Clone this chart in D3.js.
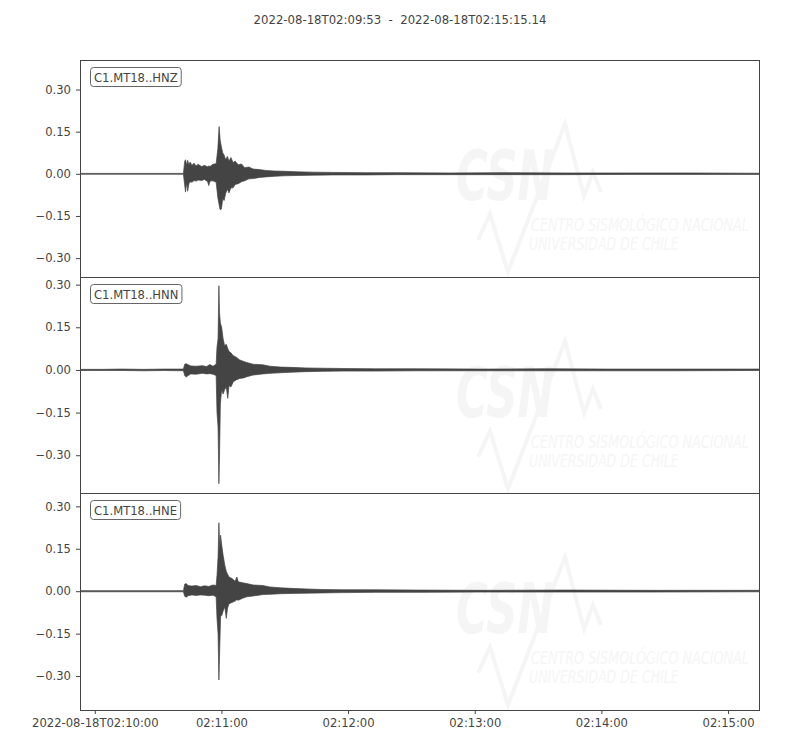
<!DOCTYPE html>
<html><head><meta charset="utf-8">
<script src="https://cdn.jsdelivr.net/npm/d3@7"></script>
<style>body{margin:0;background:#fff} svg text{font-family:"DejaVu Sans",sans-serif}</style>
</head><body><svg id="c" width="800" height="750"></svg>
<script>
// ---------- data ----------
const startTime = "2022-08-18T02:09:53Z";
const endTime = "2022-08-18T02:15:15.14Z";
const titleText = "2022-08-18T02:09:53  -  2022-08-18T02:15:15.14";
const channels = ["C1.MT18..HNZ", "C1.MT18..HNN", "C1.MT18..HNE"];
const yTicks = [0.30, 0.15, 0.00, -0.15, -0.30];
const yLimits = [[-0.366, 0.405], [-0.434, 0.328], [-0.42, 0.346]];
const xTickTimes = ["2022-08-18T02:10:00Z", "2022-08-18T02:11:00Z", "2022-08-18T02:12:00Z",
                    "2022-08-18T02:13:00Z", "2022-08-18T02:14:00Z", "2022-08-18T02:15:00Z"];
const xTickLabels = ["2022-08-18T02:10:00", "02:11:00", "02:12:00", "02:13:00", "02:14:00", "02:15:00"];
const watermarkTexts = ["CSN", "CENTRO SISMOLÓGICO NACIONAL", "UNIVERSIDAD DE CHILE"];

// envelope of each trace: [seconds after start, max (m/s²), min]
const envHNZ = [
  [0, .0015, -.0015], [49.0, .0015, -.0015], [49.6, .045, -.04], [50.0, .05, -.065], [50.5, .03, -.03],
  [51.0, .048, -.062], [51.6, .032, -.035], [52.2, .042, -.028], [53.0, .03, -.03], [54.0, .038, -.024],
  [55.0, .028, -.026], [56.0, .034, -.022], [57.5, .026, -.024], [59.0, .03, -.02], [60.5, .025, -.028],
  [61.0, .028, -.042], [61.6, .026, -.026], [63.0, .034, -.025], [64.5, .036, -.03], [65.3, .09, -.085],
  [65.9, .168, -.11], [66.4, .12, -.128], [67.0, .095, -.125], [67.6, .075, -.09], [68.3, .066, -.095],
  [69.0, .05, -.07], [69.8, .062, -.055], [70.6, .045, -.068], [71.5, .058, -.05], [72.5, .04, -.05],
  [73.5, .045, -.038], [75.0, .032, -.035], [76.5, .035, -.028], [78.0, .022, -.025], [80.0, .024, -.018],
  [82.0, .017, -.017], [85.0, .015, -.013], [88.0, .012, -.011], [92.0, .01, -.009], [97.0, .009, -.007],
  [103, .007, -.006], [110, .006, -.005], [120, .005, -.004], [135, .004, -.004], [150, .004, -.003],
  [175, .003, -.003], [200, .004, -.003], [230, .003, -.003], [260, .003, -.002], [290, .003, -.002],
  [322.14, .002, -.002]
];
const envHNN = [
  [0, .002, -.002], [10, .002, -.002], [20, .003, -.002], [30, .002, -.003], [40, .003, -.002],
  [49.0, .003, -.003], [49.6, .02, -.02], [50.3, .022, -.025], [51.2, .018, -.02], [52.5, .014, -.014],
  [55, .013, -.015], [58, .015, -.012], [60, .012, -.014], [61.5, .019, -.013], [63, .013, -.015],
  [64.5, .02, -.02], [64.9, .08, -.15], [65.4, .11, -.2], [65.8, .296, -.40], [66.1, .2, -.3],
  [66.5, .165, -.12], [67.1, .15, -.07], [67.8, .11, -.085], [68.5, .085, -.07], [69.3, .09, -.06],
  [70.0, .075, -.1], [70.6, .065, -.055], [71.5, .06, -.06], [72.6, .05, -.042], [74, .045, -.035],
  [75.7, .035, -.03], [77.5, .03, -.028], [79, .026, -.024], [82, .02, -.018], [86.6, .018, -.014],
  [90, .013, -.012], [95, .01, -.01], [100, .009, -.008], [107, .007, -.006], [115, .006, -.005],
  [125, .005, -.004], [140, .004, -.004], [160, .004, -.003], [190, .003, -.003], [220, .004, -.003],
  [250, .003, -.003], [280, .003, -.003], [322.14, .003, -.002]
];
const envHNE = [
  [0, .002, -.002], [49.0, .002, -.002], [49.6, .025, -.018], [50.3, .027, -.021], [51.2, .02, -.016],
  [53, .018, -.013], [55, .02, -.015], [57, .016, -.013], [59, .019, -.014], [61, .017, -.016],
  [63, .022, -.014], [64.5, .02, -.02], [64.9, .056, -.096], [65.4, .12, -.15], [65.8, .242, -.314],
  [66.2, .15, -.2], [66.6, .198, -.09], [67.2, .16, -.085], [67.8, .127, -.07], [68.6, .092, -.055],
  [69.3, .07, -.096], [69.9, .06, -.06], [70.6, .05, -.044], [72, .045, -.04], [73.5, .035, -.035],
  [74.3, .05, -.03], [75, .033, -.032], [77, .03, -.025], [79, .027, -.02], [82, .022, -.017],
  [86.6, .02, -.012], [90, .015, -.011], [95, .012, -.009], [100, .01, -.008], [107, .008, -.007],
  [115, .006, -.006], [125, .005, -.005], [140, .005, -.004], [160, .004, -.004], [190, .003, -.003],
  [230, .004, -.003], [270, .003, -.003], [322.14, .003, -.002]
];
const envelopes = [envHNZ, envHNN, envHNE];

// ---------- drawing ----------
const mLeft = 80, mRight = 760, mTop = 60, mBottom = 710;
const panelH = (mBottom - mTop) / channels.length;
const ink = "#444444";
const t0 = new Date(startTime);
const svg = d3.select("#c");

svg.append("text").attr("x", 400).attr("y", 24).attr("text-anchor", "middle")
  .attr("xml:space", "preserve").style("white-space", "pre")
  .attr("font-size", 11.7).attr("fill", ink).text(titleText);

const x = d3.scaleUtc().domain([t0, new Date(endTime)]).range([mLeft, mRight]);
const tAt = s => new Date(t0.getTime() + s * 1000);

// text squeezed horizontally to a target width (watermark lettering is condensed)
function fitText(sel, tx, ty, width, str, size, weight) {
  const t = sel.append("text").attr("font-size", size).attr("font-style", "italic")
    .attr("font-weight", weight)
    .attr("font-family", "Liberation Sans Narrow, Liberation Sans, sans-serif")
    .attr("fill", "#f5f5f5").text(str);
  const sx = width / t.node().getComputedTextLength();
  t.attr("transform", `translate(${tx},${ty}) scale(${sx},1)`);
}

channels.forEach((ch, i) => {
  const py0 = Math.round(mTop + i * panelH), py1 = Math.round(mTop + (i + 1) * panelH);
  const y = d3.scaleLinear().domain(yLimits[i]).range([mTop + (i + 1) * panelH, mTop + i * panelH]);
  const g = svg.append("g");

  g.append("clipPath").attr("id", "clip" + i).append("rect")
    .attr("x", mLeft).attr("y", py0).attr("width", mRight - mLeft).attr("height", py1 - py0);

  // faint watermark
  const wm = g.append("g").attr("transform", `translate(0,${py0 - 60})`);
  fitText(wm, 456, 200, 98, watermarkTexts[0], 70, "bold");
  wm.append("path").attr("d", "M478,240 L490,214 L508,272 L565,124 L584,196 L593,172 L601,192")
    .attr("fill", "none").attr("stroke", "#f5f5f5").attr("stroke-width", 4).attr("stroke-linejoin", "miter");
  fitText(wm, 531, 231, 218, watermarkTexts[1], 17, "normal");
  fitText(wm, 529, 250, 150, watermarkTexts[2], 17, "normal");

  // waveform envelope
  const area = d3.area()
    .x(d => x(tAt(d[0])))
    .y0(d => y(d[2]))
    .y1(d => y(d[1]));
  g.append("path").datum(envelopes[i]).attr("clip-path", `url(#clip${i})`)
    .attr("d", area).attr("fill", ink).attr("stroke", ink).attr("stroke-width", 0.7)
    .attr("stroke-linejoin", "round");

  // y axis
  const ya = d3.axisLeft(y).tickValues(yTicks).tickSize(4).tickPadding(5)
    .tickFormat(v => d3.format(".2f")(v).replace("-", "\u2212"));
  const yg = g.append("g").attr("transform", `translate(${mLeft},0)`).call(ya);
  yg.select(".domain").remove();
  yg.selectAll("line").attr("stroke", ink);
  yg.selectAll("text").attr("fill", ink).attr("font-size", 11.6)
    .attr("font-family", "DejaVu Sans, sans-serif");

  // frame (shared edges between panels)
  g.append("rect").attr("x", mLeft + 0.5).attr("y", py0 + 0.5)
    .attr("width", mRight - mLeft - 1).attr("height", py1 - py0)
    .attr("fill", "none").attr("stroke", ink).attr("stroke-width", 1);

  // label box
  const lbl = g.append("g").attr("transform", `translate(${mLeft + 10},${py0 + 7})`);
  const txt = lbl.append("text").attr("x", 4).attr("y", 14.5).attr("font-size", 11.6)
    .attr("fill", ink).text(ch);
  const bw = txt.node().getComputedTextLength() + 7;
  lbl.insert("rect", "text").attr("x", 0.5).attr("y", 0.5).attr("width", bw).attr("height", 19)
    .attr("rx", 3).attr("fill", "#fff").attr("stroke", "#666").attr("stroke-width", 1);
});

// x axis
const xa = d3.axisBottom(x).tickValues(xTickTimes.map(s => new Date(s)))
  .tickSize(4).tickPadding(5).tickFormat((d, k) => xTickLabels[k]);
const xg = svg.append("g").attr("transform", `translate(0,${mBottom})`).call(xa);
xg.select(".domain").remove();
xg.selectAll("line").attr("stroke", ink);
xg.selectAll("text").attr("fill", ink).attr("font-size", 11.6)
  .attr("font-family", "DejaVu Sans, sans-serif");
</script></body></html>
